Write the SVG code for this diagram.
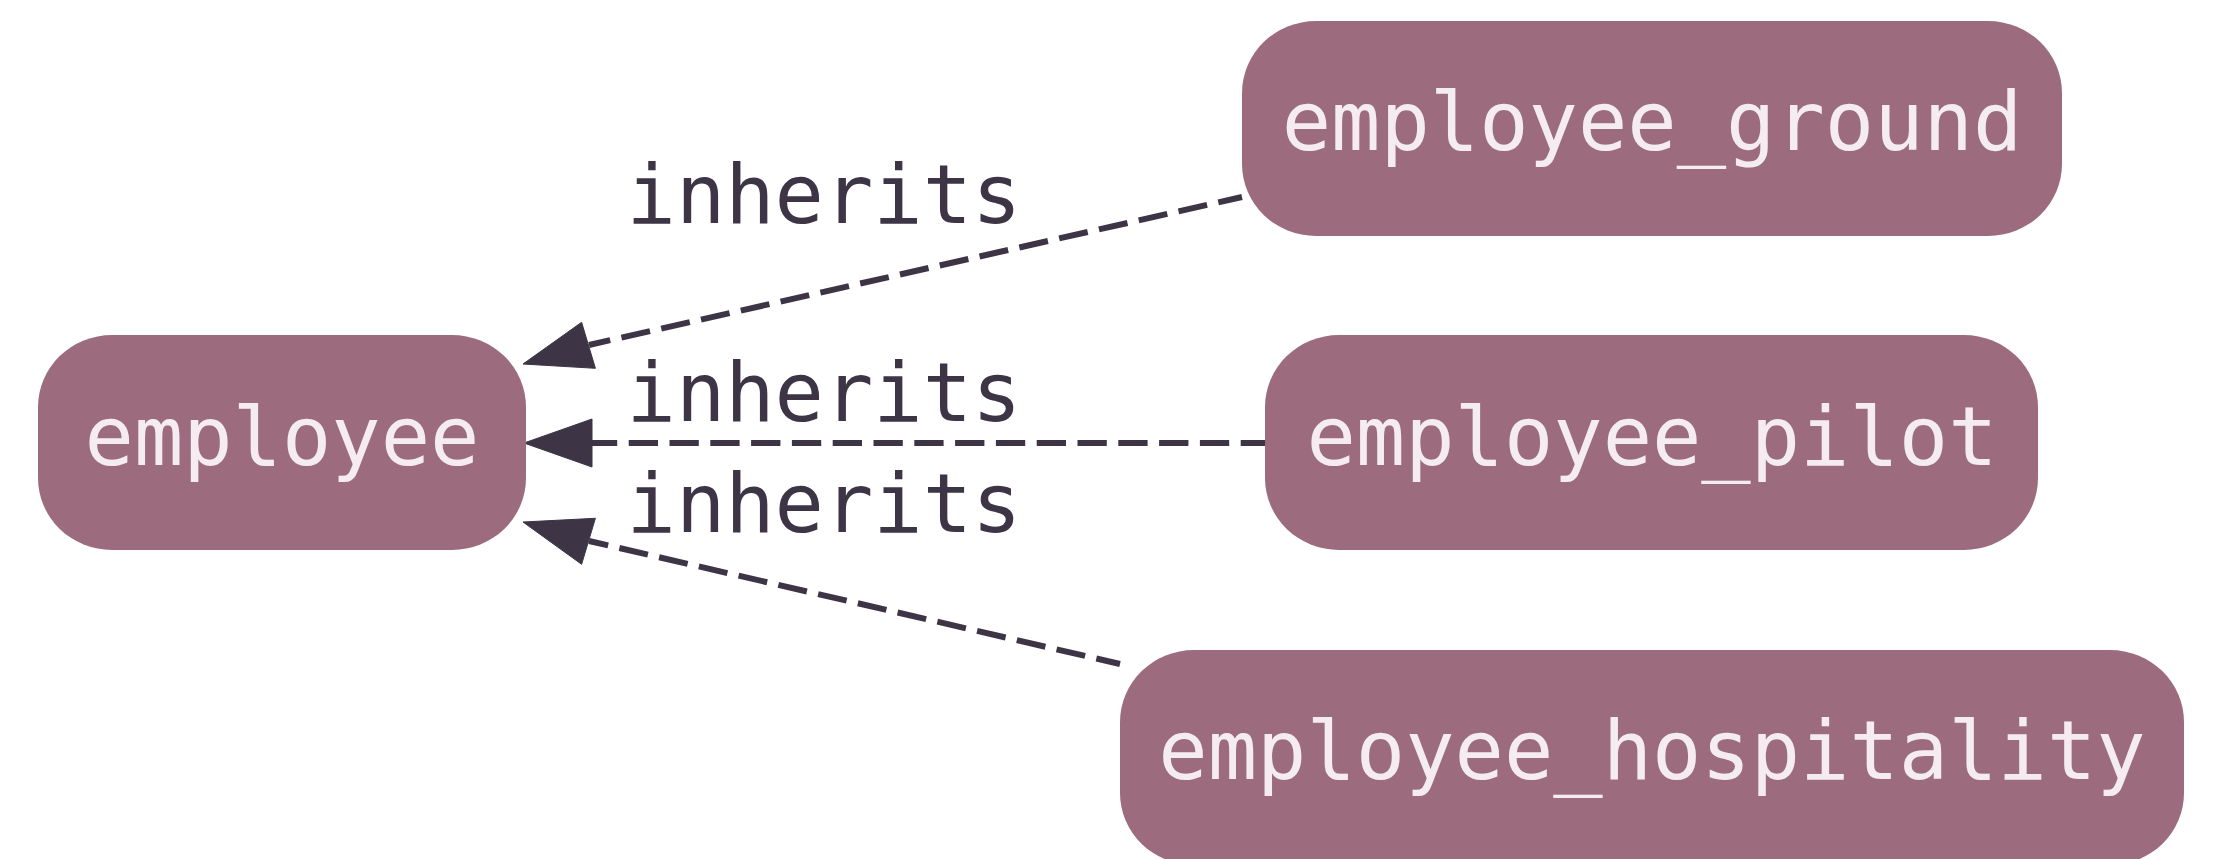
<svg xmlns="http://www.w3.org/2000/svg" width="2218" height="859" viewBox="0 0 2218 859">
<style>
.node rect{fill:#9c6b7e;}
.node text{font-family:"DejaVu Sans Mono","Liberation Mono",monospace;font-size:82px;fill:#f4ecf1;text-anchor:middle;}
.edge path{stroke:#3d3446;stroke-width:6;stroke-dasharray:29.3 11.5;stroke-dashoffset:5;fill:none;}
.edge polygon{fill:#3d3446;stroke:#3d3446;stroke-width:1;}
.lbl{font-family:"DejaVu Sans Mono","Liberation Mono",monospace;font-size:82px;fill:#3d3446;text-anchor:middle;}
</style>
<rect width="2218" height="859" fill="#ffffff"/>
<g id="connectors">
<g class="edge" id="e_ground">
<path d="M1242,197 L589,345"/>
<polygon points="523,364 581.6,322.3 595.4,368.3"/>
<text class="lbl" x="824" y="223">inherits</text>
</g>
<g class="edge" id="e_pilot">
<path d="M1265,443 L592,443"/>
<polygon points="524,443 592,419 592,467"/>
<text class="lbl" x="824" y="421">inherits</text>
</g>
<g class="edge" id="e_hospitality">
<path d="M1120,664 L589,541"/>
<polygon points="523,522 595.4,518.3 581.6,564.3"/>
<text class="lbl" x="824" y="532">inherits</text>
</g>
</g>
<g class="node" id="employee">
<rect x="38" y="335" width="488" height="215" rx="74" ry="72"/>
<text x="282" y="465">employee</text>
</g>
<g class="node" id="employee_ground">
<rect x="1242" y="21" width="820" height="215" rx="74" ry="72"/>
<text x="1652" y="150">employee_ground</text>
</g>
<g class="node" id="employee_pilot">
<rect x="1265" y="335" width="773" height="215" rx="74" ry="72"/>
<text x="1652" y="465">employee_pilot</text>
</g>
<g class="node" id="employee_hospitality">
<rect x="1120" y="650" width="1064" height="215" rx="74" ry="72"/>
<text x="1652" y="779">employee_hospitality</text>
</g>
</svg>
